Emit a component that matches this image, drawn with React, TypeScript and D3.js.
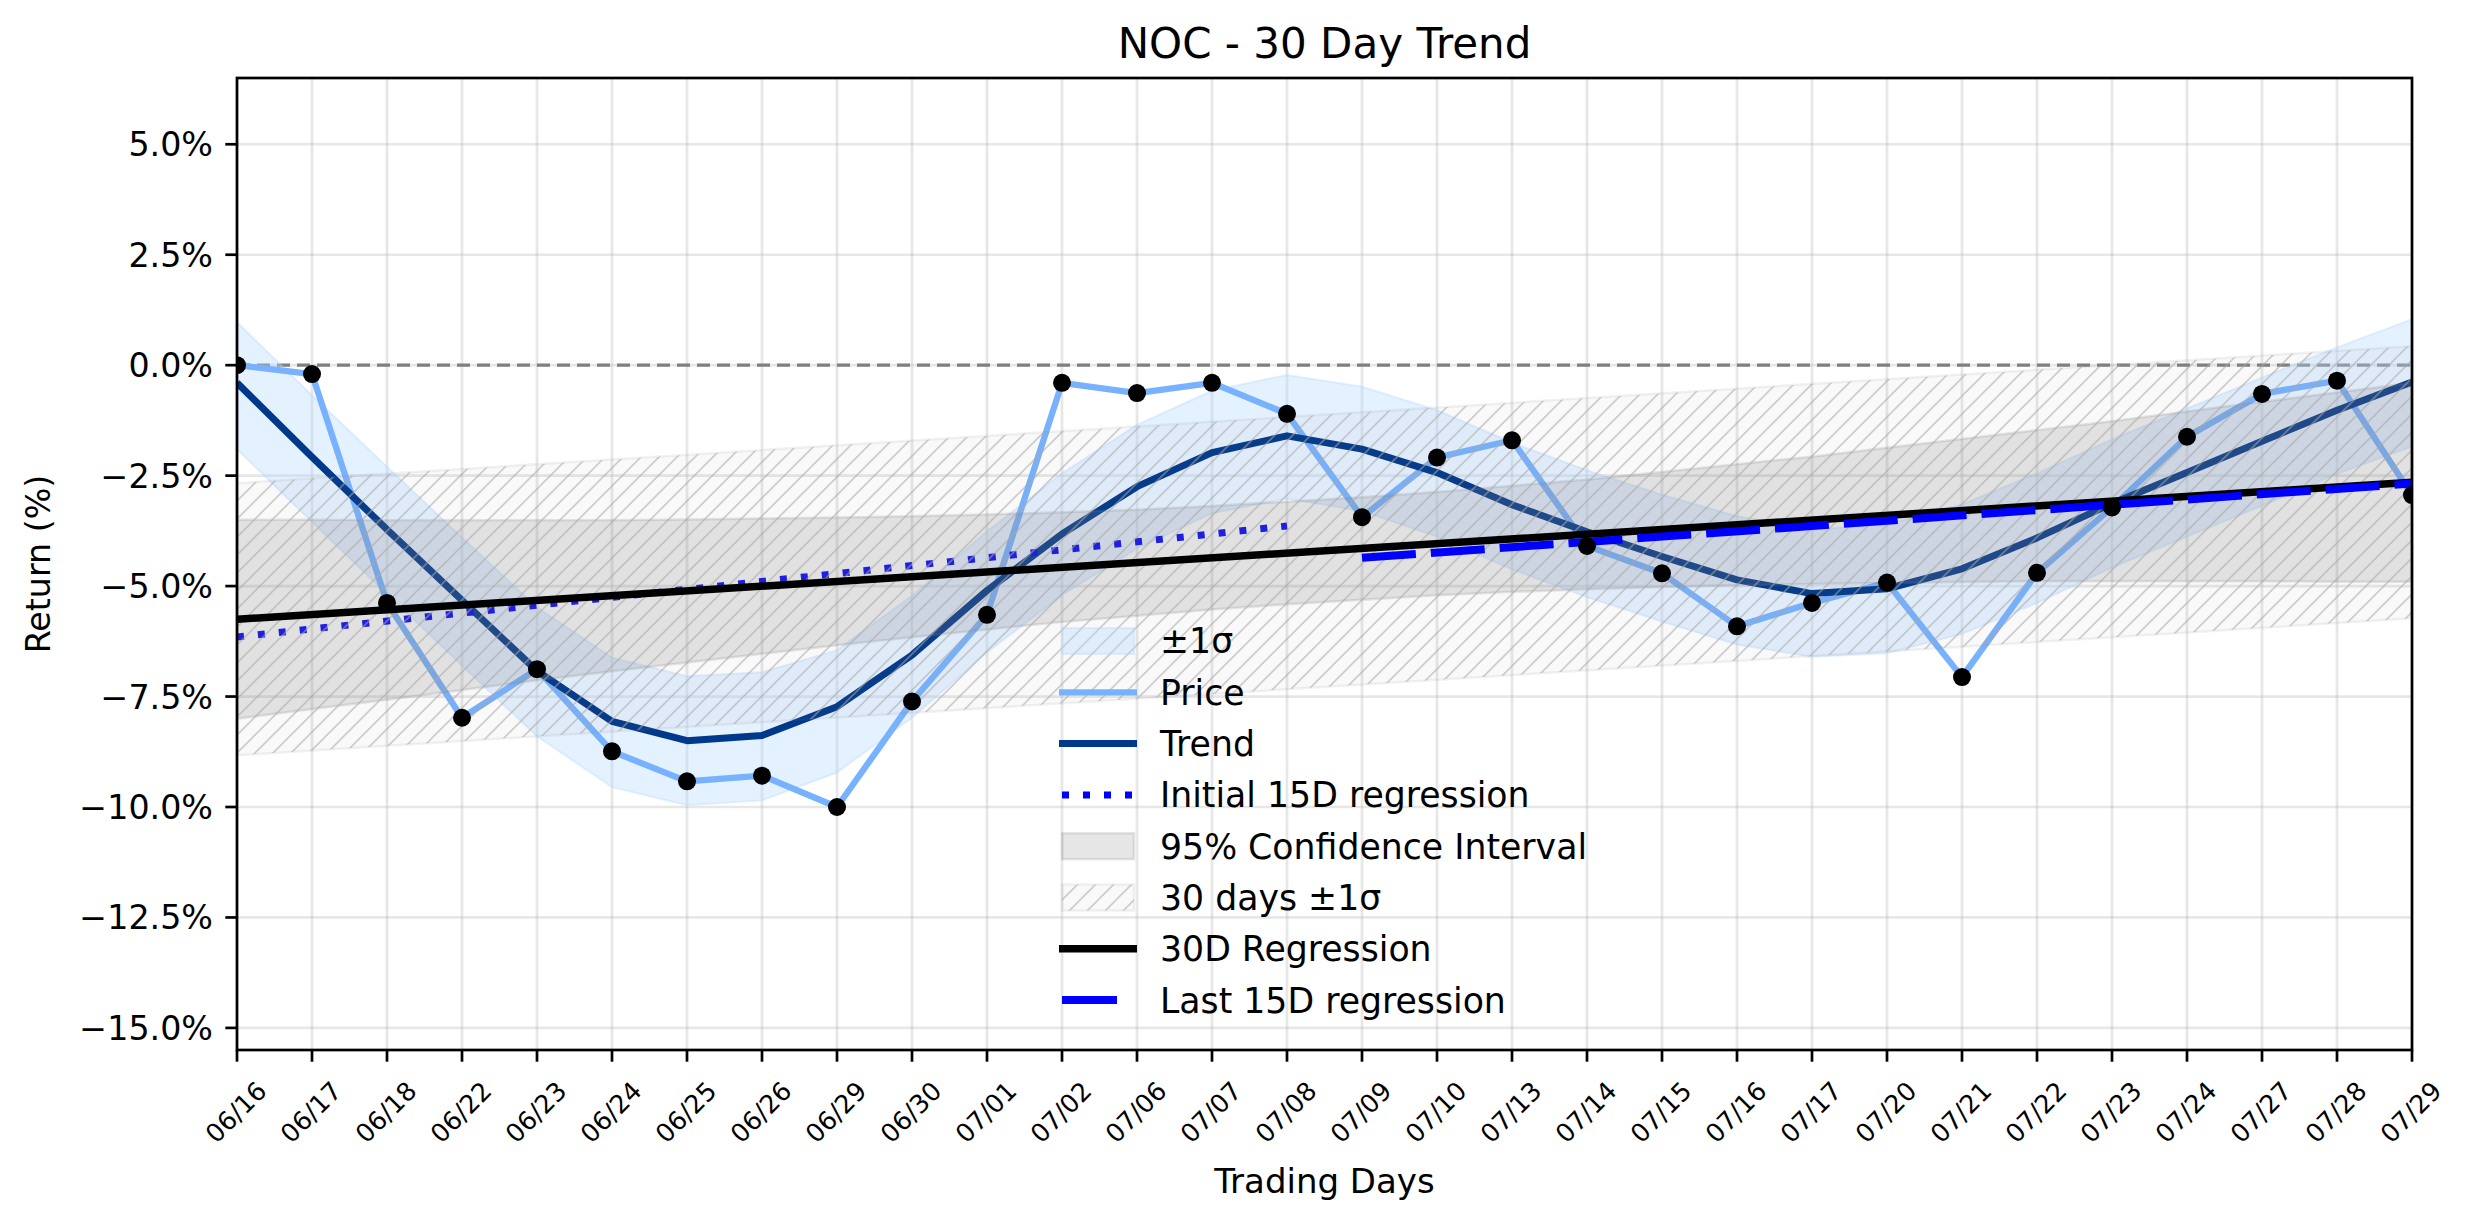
import React from "react";
import * as d3 from "d3";

const dates = ["06/16","06/17","06/18","06/22","06/23","06/24","06/25","06/26","06/29","06/30","07/01","07/02","07/06","07/07","07/08","07/09","07/10","07/13","07/14","07/15","07/16","07/17","07/20","07/21","07/22","07/23","07/24","07/27","07/28","07/29"];

const price = [0.0, -0.20, -5.38, -7.98, -6.88, -8.74, -9.42, -9.29, -10.0, -7.61, -5.65, -0.40, -0.63, -0.40, -1.10, -3.44, -2.09, -1.70, -4.09, -4.71, -5.91, -5.38, -4.92, -7.06, -4.70, -3.22, -1.62, -0.65, -0.35, -2.94];

const trend = [-0.40, -2.08, -3.72, -5.32, -6.92, -8.06, -8.50, -8.38, -7.73, -6.56, -5.10, -3.82, -2.75, -1.98, -1.60, -1.90, -2.43, -3.16, -3.77, -4.33, -4.86, -5.17, -5.06, -4.61, -3.91, -3.13, -2.43, -1.72, -1.02, -0.38];

const bandUpper = [0.97, -0.68, -2.30, -3.90, -5.48, -6.62, -7.04, -6.95, -6.45, -5.22, -3.76, -2.45, -1.35, -0.58, -0.22, -0.49, -1.02, -1.75, -2.38, -2.93, -3.42, -3.72, -3.60, -3.15, -2.45, -1.68, -0.98, -0.28, 0.40, 1.04];
const bandLower = [-1.90, -3.55, -5.18, -6.80, -8.40, -9.55, -9.96, -9.85, -9.22, -7.98, -6.50, -5.20, -4.15, -3.35, -3.02, -3.30, -3.88, -4.62, -5.25, -5.80, -6.32, -6.60, -6.52, -6.08, -5.38, -4.58, -3.88, -3.18, -2.46, -1.84];

const ciUpper = [-3.50, -3.50, -3.51, -3.51, -3.51, -3.51, -3.49, -3.47, -3.45, -3.42, -3.38, -3.33, -3.27, -3.19, -3.09, -2.99, -2.87, -2.73, -2.59, -2.42, -2.24, -2.07, -1.87, -1.67, -1.47, -1.27, -1.05, -0.83, -0.62, -0.40];
const ciLower = [-8.00, -7.78, -7.57, -7.35, -7.13, -6.93, -6.73, -6.53, -6.34, -6.16, -5.98, -5.81, -5.67, -5.53, -5.41, -5.31, -5.21, -5.13, -5.07, -5.02, -4.98, -4.95, -4.93, -4.91, -4.89, -4.89, -4.89, -4.89, -4.90, -4.90];

const sigmaBandX = [0, 29];
const sigmaBandUpper = [-2.67, 0.43];
const sigmaBandLower = [-8.83, -5.73];

const reg30X = [0, 29];
const reg30Y = [-5.75, -2.65];
const initX = [0, 14];
const initY = [-6.15, -3.64];
const lastX = [15, 29];
const lastY = [-4.36, -2.68];

const yTicks = [5, 2.5, 0, -2.5, -5, -7.5, -10, -12.5, -15];

const legendLabels = ["±1σ", "Price", "Trend", "Initial 15D regression", "95% Confidence Interval", "30 days ±1σ", "30D Regression", "Last 15D regression"];

const W = 2474, H = 1224;
const L = 237, R = 2412, T = 78, B = 1050;
const FONT = "DejaVu Sans, sans-serif";

export default function App() {
  const x = d3.scaleLinear().domain([0, dates.length - 1]).range([L, R]);
  const y = d3.scaleLinear().domain([-15.5, 6.5]).range([B, T]);
  const idx = dates.map((_, i) => i);

  const band = d3.area<number>().x(i => x(i)).y0(i => y(bandLower[i])).y1(i => y(bandUpper[i]));
  const ci = d3.area<number>().x(i => x(i)).y0(i => y(ciLower[i])).y1(i => y(ciUpper[i]));
  const sig = d3.area<number>().x(i => x(sigmaBandX[i])).y0(i => y(sigmaBandLower[i])).y1(i => y(sigmaBandUpper[i]));
  const line = (xs: number[], ys: number[]) => d3.line<number>().x(i => x(xs[i])).y(i => y(ys[i]))(xs.map((_, i) => i)) as string;
  const priceLine = d3.line<number>().x(i => x(i)).y(i => y(price[i]))(idx) as string;
  const trendLine = d3.line<number>().x(i => x(i)).y(i => y(trend[i]))(idx) as string;

  const legX = 1062, legW = 72, legTextX = 1160, legY0 = 641, legStep = 51.3;

  return (
    <svg width={W} height={H} style={{ position: "absolute", left: 0, top: 0, background: "#fff" }} fontFamily={FONT}>
      <defs>
        <clipPath id="plot"><rect x={L} y={T} width={R - L} height={B - T} /></clipPath>
        <pattern id="hatch" patternUnits="userSpaceOnUse" width={18} height={18}>
          <path d="M0,18 L18,0 M-4.5,4.5 L4.5,-4.5 M13.5,22.5 L22.5,13.5" stroke="#a8a8a8" strokeOpacity={0.55} strokeWidth={1.6} />
        </pattern>
      </defs>
      <rect x={0} y={0} width={W} height={H} fill="#fff" />
      {/* grid */}
      <g stroke="#b0b0b0" strokeOpacity={0.3} strokeWidth={2.7}>
        {idx.map(i => <line key={"gx" + i} x1={x(i)} x2={x(i)} y1={T} y2={B} />)}
        {yTicks.map(t => <line key={"gy" + t} x1={L} x2={R} y1={y(t)} y2={y(t)} />)}
      </g>
      <g clipPath="url(#plot)">
        <line x1={L} x2={R} y1={y(0)} y2={y(0)} stroke="#808080" strokeWidth={3.3} strokeDasharray="13 7" />
        <path d={band(idx) as string} fill="#b3d7ff" fillOpacity={0.35} stroke="#b3d7ff" strokeOpacity={0.35} strokeWidth={2} />
        <path d={priceLine} fill="none" stroke="#78b2ff" strokeWidth={6.3} strokeLinejoin="round" />
        <path d={trendLine} fill="none" stroke="#00388c" strokeWidth={7} strokeLinejoin="round" />
        <path d={line(initX, initY)} fill="none" stroke="#0000ff" strokeWidth={7} strokeDasharray="7 14" />
        <path d={ci(idx) as string} fill="#808080" fillOpacity={0.2} stroke="#808080" strokeOpacity={0.2} strokeWidth={2.5} />
        <path d={sig([0, 1]) as string} fill="#808080" fillOpacity={0.05} stroke="#808080" strokeOpacity={0.1} strokeWidth={2.5} />
        <path d={sig([0, 1]) as string} fill="url(#hatch)" />
        <path d={line(reg30X, reg30Y)} fill="none" stroke="#000" strokeWidth={7.5} />
        <path d={line(lastX, lastY)} fill="none" stroke="#0000ff" strokeWidth={8} strokeDasharray="54 15" />
        {idx.map(i => <circle key={"p" + i} cx={x(i)} cy={y(price[i])} r={9} fill="#000" />)}
      </g>
      {/* spines */}
      <rect x={L} y={T} width={R - L} height={B - T} fill="none" stroke="#000" strokeWidth={2.7} />
      {/* y ticks */}
      {yTicks.map(t => (
        <g key={"yt" + t}>
          <line x1={L - 11.7} x2={L} y1={y(t)} y2={y(t)} stroke="#000" strokeWidth={2.7} />
          <text x={L - 24} y={y(t)} dy="0.36em" textAnchor="end" fontSize={33.3} fill="#000">
            {(t < 0 ? "\u2212" : "") + Math.abs(t).toFixed(1) + "%"}
          </text>
        </g>
      ))}
      {/* x ticks */}
      {dates.map((d, i) => (
        <g key={"xt" + i}>
          <line x1={x(i)} x2={x(i)} y1={B} y2={B + 11.7} stroke="#000" strokeWidth={2.7} />
          <text transform={`translate(${x(i) - 1.3},${1112}) rotate(-45)`} textAnchor="middle" dy="0.36em" fontSize={25.5} fill="#000">{d}</text>
        </g>
      ))}
      <text x={(L + R) / 2} y={1193} textAnchor="middle" fontSize={34} fill="#000">Trading Days</text>
      <text transform={`translate(50,${(T + B) / 2}) rotate(-90)`} textAnchor="middle" fontSize={33.3} fill="#000">Return (%)</text>
      <text x={(L + R) / 2} y={58} textAnchor="middle" fontSize={42} fill="#000">NOC - 30 Day Trend</text>
      {/* legend */}
      <g>
        {legendLabels.map((lab, k) => {
          const cy = legY0 + k * legStep;
          let handle: React.ReactNode = null;
          if (k === 0) handle = <rect x={legX} y={cy - 13} width={legW} height={26} fill="#b3d7ff" fillOpacity={0.35} stroke="#b3d7ff" strokeOpacity={0.35} strokeWidth={2} />;
          if (k === 1) handle = <line x1={legX - 3} x2={legX + legW + 3} y1={cy} y2={cy} stroke="#78b2ff" strokeWidth={6.3} />;
          if (k === 2) handle = <line x1={legX - 3} x2={legX + legW + 3} y1={cy} y2={cy} stroke="#00388c" strokeWidth={7} />;
          if (k === 3) handle = <line x1={legX} x2={legX + legW} y1={cy} y2={cy} stroke="#0000ff" strokeWidth={7} strokeDasharray="7 14" />;
          if (k === 4) handle = <rect x={legX} y={cy - 13} width={legW} height={26} fill="#808080" fillOpacity={0.2} stroke="#808080" strokeOpacity={0.2} strokeWidth={2.5} />;
          if (k === 5) handle = (
            <g>
              <rect x={legX} y={cy - 13} width={legW} height={26} fill="#808080" fillOpacity={0.05} stroke="#808080" strokeOpacity={0.1} strokeWidth={2.5} />
              <rect x={legX} y={cy - 13} width={legW} height={26} fill="url(#hatch)" />
            </g>
          );
          if (k === 6) handle = <line x1={legX - 3} x2={legX + legW + 3} y1={cy} y2={cy} stroke="#000" strokeWidth={7.5} />;
          if (k === 7) handle = <line x1={legX} x2={legX + 55} y1={cy} y2={cy} stroke="#0000ff" strokeWidth={8} />;
          return (
            <g key={"lg" + k}>
              {handle}
              <text x={legTextX} y={cy} dy="0.36em" fontSize={34.7} fill="#000">{lab}</text>
            </g>
          );
        })}
      </g>
    </svg>
  );
}
